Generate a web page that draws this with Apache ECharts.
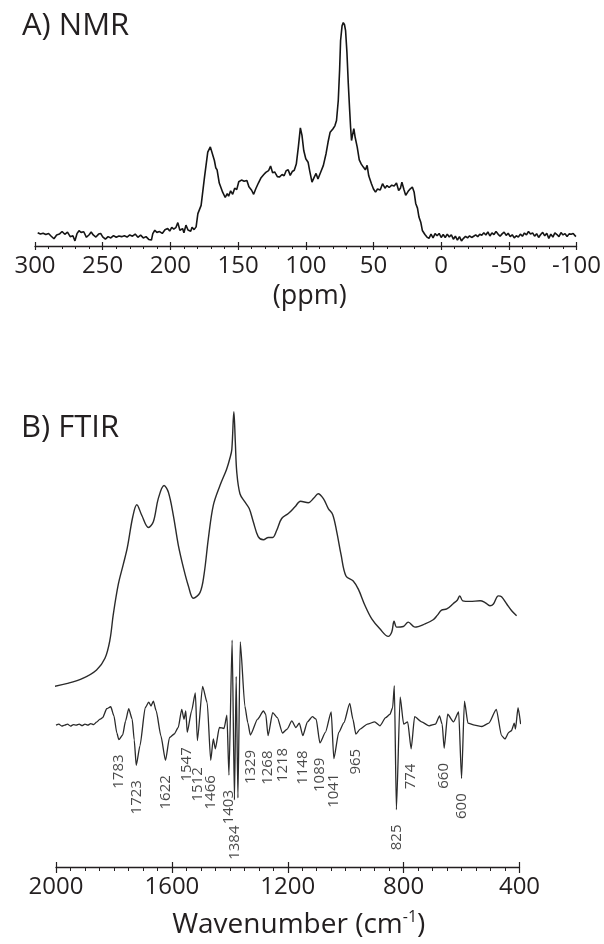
<!DOCTYPE html>
<html>
<head>
<meta charset="utf-8">
<script src="https://cdn.jsdelivr.net/npm/echarts@6/dist/echarts.min.js"></script>
<style>
  html, body { margin: 0; padding: 0; background: #fff; }
  #chart { width: 604px; height: 944px; }
</style>
</head>
<body>
<div id="chart"></div>
<script>
// 13C solid-state NMR spectrum: [chemical shift (ppm), relative intensity]
const nmrSpectrum = [
  [298, 1.2], [296, 0.6], [294, 1.0], [292, 0.4], [290, 0.9], [288, -0.4], [286, -1.6], [284, 0.2],
  [282, 0.6], [280, 1.8], [278, 0.5], [276, 1.5], [274, -0.6], [272, -0.2], [270.5, -2.6], [269, 0.8],
  [267.5, 2.2], [266, 1.4], [264, 1.7], [262, -0.9], [260, 0.3], [258.5, 1.6], [257, 0.2], [255, -0.8],
  [253, 0.6], [251.5, 0.9], [250, -0.7], [248, -1.8], [246, -0.6], [244, -1.2], [242, -0.1], [240, -0.9],
  [238, -0.3], [236, -0.6], [234, -0.2], [232, -0.8], [230, 0.2], [228, -0.4], [226, 0.6], [224, -0.9],
  [222, 0.1], [220, -1.2], [218, -0.6], [216, -1.9], [214, -2.2], [213, 0.8], [211.5, 2.4], [210, 1.4],
  [208, 1.8], [206, 0.9], [204, 2.6], [202, 3.2], [200.5, 2.0], [199, 3.8], [197.5, 2.9], [196, 3.6],
  [194.5, 6.0], [193, 2.4], [191, 3.2], [190, 1.2], [188.5, 4.8], [187, 2.5], [185, 1.9], [184, 3.8],
  [182.5, 2.7], [181, 4.0], [179.7, 10.2], [177.3, 14.1], [174.8, 27.4], [172.4, 39.1], [170.5, 41.6],
  [169.2, 41.2], [167.5, 35.2], [166.5, 31.8], [165.5, 30.8], [163.9, 24.6], [161.4, 20.3], [159.5, 17.8],
  [158, 19.6], [157, 18.4], [155.5, 20.9], [154, 19.3], [152.5, 22.2], [151, 21.5], [149.5, 25.2],
  [147.5, 26.0], [145.5, 25.4], [143.5, 25.8], [142, 22.8], [140, 21.2], [138.5, 19.3], [137, 21.8],
  [135, 24.6], [133, 27.1], [131, 28.6], [129.5, 29.6], [127.5, 30.4], [126, 32.6], [124.5, 29.4],
  [123, 29.8], [121, 27.6], [119.5, 27.4], [117.5, 28.6], [116, 28.0], [114.5, 30.4], [113, 30.8],
  [111.5, 28.2], [110, 30.0], [108.5, 30.6], [107, 33.5], [105.5, 41.5], [104, 50.5], [102.8, 47.0],
  [101.5, 39.9], [100, 36.0], [98.3, 34.4], [97, 30.0], [95.4, 25.0], [94, 27.0], [92.4, 29.1],
  [91, 26.5], [90, 27.2], [88.5, 30.5], [87, 32.9], [85, 38.5], [83.5, 44.0], [82, 48.5], [80, 50.0],
  [78.5, 51.5], [77.3, 54.0], [76, 63.4], [75, 78.0], [74.3, 91.5], [73.2, 98.5], [72.3, 100],
  [71.4, 99.0], [70.6, 96.2], [69.6, 86.0], [68.6, 71.4], [67.6, 59.0], [66.9, 50.8], [66.2, 44.6],
  [65.5, 47.0], [64.5, 50.2], [63.5, 46.0], [62, 41.5], [60.5, 35.5], [59, 33.5], [57.5, 32.1],
  [56, 30.8], [54.7, 32.9], [53.5, 28.0], [51.5, 24.3], [50, 21.8], [48.5, 20.3], [47, 21.8],
  [45, 21.3], [43.3, 24.3], [41.5, 22.2], [40, 23.4], [38.4, 22.5], [36.5, 23.6], [34.7, 23.2],
  [33, 24.6], [31.4, 21.1], [30, 22.3], [29, 25.0], [27.5, 21.6], [26.2, 18.8], [24.5, 20.6],
  [22.8, 21.9], [21.3, 22.7], [20, 20.4], [18.8, 15.0], [17.5, 12.8], [16.4, 8.6], [15, 6.0],
  [13.9, 2.3], [12, 0.4], [10.5, -0.8], [9, -1.4], [7.5, 0.6], [6, -1.2], [4.5, 0.8], [3, -0.2],
  [1.5, 0.9], [0, -1.0], [-1.5, 0.4], [-3, -1.0], [-4.5, 0.6], [-6, -0.8], [-7.5, 0.3], [-9, -1.8],
  [-10.5, -0.4], [-12, -2.2], [-13.5, -0.6], [-15, -2.6], [-16.5, -1.4], [-18, -0.5], [-19.5, -1.2],
  [-21, -0.2], [-22.5, -1.0], [-24, -0.4], [-25.5, 0.2], [-27, -0.6], [-28.5, 0.5], [-30, 0.1],
  [-31.5, 1.2], [-33, 0.2], [-34.5, 1.6], [-36, -0.3], [-37.5, 1.2], [-39, 0.4], [-40.5, 1.8],
  [-42, 0.6], [-43.5, -0.4], [-45, 0.7], [-46.5, 1.5], [-48, 0.0], [-49.5, 1.0], [-51, -0.6],
  [-52.5, 0.3], [-54, -1.2], [-55.5, -0.2], [-57, -0.8], [-58.5, 0.6], [-60, -0.4], [-61.5, 1.1],
  [-63, 0.2], [-64.5, 1.8], [-66, 0.6], [-67.5, 1.2], [-69, -0.4], [-70.5, 0.8], [-72, -1.0],
  [-73.5, 0.4], [-75, 1.4], [-76.5, -0.2], [-78, 1.0], [-79.5, -1.4], [-81, 0.6], [-82.5, -0.8],
  [-84, 1.2], [-85.5, 0.4], [-87, -0.6], [-88.5, 1.3], [-90, 0.2], [-91.5, 0.8], [-93, -0.5],
  [-94.5, 0.7], [-96, 0.5], [-97.5, 0.9], [-99.5, -0.6]
];

// FTIR absorbance: [wavenumber (cm-1), normalised absorbance]
const ftirAbsorbance = [
  [2015, 0.017], [1960, 0.029], [1906, 0.047], [1860, 0.075], [1831, 0.115], [1814, 0.177],
  [1802, 0.267], [1785, 0.368], [1768, 0.436], [1754, 0.493], [1735, 0.600], [1721, 0.641],
  [1704, 0.605], [1681, 0.563], [1664, 0.583], [1647, 0.662], [1627, 0.707], [1612, 0.684],
  [1595, 0.605], [1578, 0.504], [1560, 0.425], [1543, 0.363], [1526, 0.321], [1503, 0.340],
  [1489, 0.402], [1474, 0.526], [1457, 0.639], [1434, 0.707], [1411, 0.763], [1399, 0.803],
  [1393, 0.831], [1386, 0.960], [1381, 0.856], [1376, 0.753], [1365, 0.679], [1348, 0.651],
  [1333, 0.628], [1319, 0.583], [1302, 0.532], [1284, 0.521], [1267, 0.529], [1252, 0.529],
  [1238, 0.554], [1221, 0.594], [1198, 0.611], [1175, 0.634], [1156, 0.653], [1129, 0.648],
  [1110, 0.664], [1095, 0.679], [1077, 0.662], [1060, 0.628], [1045, 0.608], [1031, 0.549],
  [1016, 0.470], [999, 0.397], [974, 0.380], [956, 0.351], [933, 0.295], [910, 0.250],
  [882, 0.216], [853, 0.190], [841, 0.205], [833, 0.242], [824, 0.222], [801, 0.224],
  [784, 0.239], [761, 0.222], [726, 0.233], [698, 0.247], [684, 0.262], [669, 0.280],
  [651, 0.284], [628, 0.303], [615, 0.314], [606, 0.329], [596, 0.312], [571, 0.310],
  [536, 0.312], [519, 0.306], [502, 0.295], [490, 0.301], [473, 0.329], [462, 0.326],
  [444, 0.301], [427, 0.278], [410, 0.261]
];

// Second derivative of the FTIR spectrum: [wavenumber (cm-1), value]
const ftirSecondDerivative = [
  [2000, 0.00], [1990, 0.01], [1980, -0.01], [1970, 0.00], [1960, 0.01], [1950, -0.01], [1940, 0.005],
  [1930, 0.00], [1920, 0.01], [1910, -0.005], [1900, 0.01], [1890, 0.00], [1880, 0.015], [1870, 0.005],
  [1860, 0.03], [1848, 0.06], [1839, 0.076], [1825, 0.166], [1811, 0.186], [1800, 0.093], [1790, -0.08],
  [1783, -0.147], [1770, -0.10], [1760, 0.04], [1749, 0.166], [1737, 0.06], [1730, -0.15], [1723, -0.407],
  [1710, -0.207], [1692, 0.176], [1680, 0.233], [1672, 0.193], [1664, 0.243], [1654, 0.143], [1638, -0.107],
  [1622, -0.357], [1608, -0.124], [1592, -0.09], [1578, -0.024], [1566, 0.16], [1558, 0.06], [1552, 0.143],
  [1547, -0.074], [1532, 0.143], [1519, 0.326], [1512, -0.157], [1494, 0.393], [1478, 0.226], [1466, -0.357],
  [1457, -0.14], [1450, -0.24], [1436, -0.024], [1420, -0.034], [1410, 0.10], [1403, -0.507], [1392, 0.86],
  [1384, -0.757], [1378, 0.493], [1372, -0.737], [1364, 0.843], [1348, 0.193], [1338, 0.026], [1329, -0.10],
  [1304, 0.06], [1284, 0.143], [1276, 0.11], [1268, -0.107], [1252, 0.126], [1236, 0.076], [1218, -0.08],
  [1202, -0.04], [1186, 0.043], [1172, -0.024], [1160, 0.02], [1148, -0.107], [1132, 0.033], [1115, 0.086],
  [1102, 0.06], [1089, -0.18], [1070, -0.074], [1050, 0.133], [1041, -0.34], [1024, -0.074], [1006, 0.026],
  [986, 0.22], [975, 0.06], [965, -0.09], [950, -0.04], [925, 0.01], [900, 0.033], [882, -0.007],
  [862, 0.076], [847, 0.11], [838, 0.176], [832, 0.40], [825, -0.857], [812, 0.286], [800, 0.01],
  [786, 0.033], [774, -0.24], [762, 0.086], [738, 0.033], [712, -0.007], [690, 0.01], [676, 0.093],
  [667, 0.01], [660, -0.234], [648, 0.11], [628, 0.033], [610, 0.133], [600, -0.54], [590, 0.243],
  [578, 0.02], [555, 0.0], [530, -0.014], [506, 0.02], [480, 0.16], [462, -0.107], [450, -0.14],
  [437, -0.074], [428, -0.057], [418, 0.02], [414, -0.04], [405, 0.176], [396, 0.01]
];

// Labelled second-derivative bands (cm-1)
const ftirBands = [1783, 1723, 1622, 1547, 1512, 1466, 1403, 1384, 1329, 1268, 1218, 1148, 1089, 1041, 965, 825, 774, 660, 600];

// Axis ranges and tick spacing
const nmrShiftRange = [-100, 300];
const nmrShiftStep = 50;
const ftirRange = [400, 2000];
const ftirStep = 400;

const FONT = '"Open Sans", "Noto Sans", sans-serif';
const INK = '#231f20';

// Band labels hang just below the minimum of each band
const labelGap = 0.15;
const labelExtraDrop = { 1512: 0.12, 1384: 0.11 };
function bandMinimum(wn) {
  let m = Infinity;
  for (const [x, y] of ftirSecondDerivative) {
    if (Math.abs(x - wn) <= 6) m = Math.min(m, y);
  }
  return m;
}
const bandLabelPoints = ftirBands.map(wn => [wn, bandMinimum(wn) - labelGap - (labelExtraDrop[wn] || 0)]);

function mainAxis(gridIndex, range, step, minorSplit, tickLen, minorLen, name, nameGap, nameStyle) {
  return {
    type: 'value', gridIndex, min: range[0], max: range[1], interval: step, inverse: true,
    position: 'bottom',
    axisLine: { show: true, onZero: false, lineStyle: { color: INK, width: 1.3 } },
    axisTick: { show: true, length: tickLen, lineStyle: { color: INK, width: 1.2 } },
    minorTick: { show: true, splitNumber: minorSplit, length: minorLen, lineStyle: { color: INK, width: 1 } },
    axisLabel: { fontSize: 24, margin: 8, color: INK, fontFamily: FONT, formatter: v => String(v) },
    splitLine: { show: false }, minorSplitLine: { show: false },
    name, nameLocation: 'middle', nameGap, nameTextStyle: nameStyle
  };
}
function innerTickAxis(gridIndex, range, step, tickLen) {
  return {
    type: 'value', gridIndex, min: range[0], max: range[1], interval: step, inverse: true,
    position: 'bottom',
    axisLine: { show: false, onZero: false },
    axisTick: { show: true, inside: true, length: tickLen, lineStyle: { color: INK, width: 1.2 } },
    axisLabel: { show: false }, splitLine: { show: false }
  };
}

const option = {
  animation: false,
  backgroundColor: '#fff',
  title: [
    { text: 'A) NMR', left: 22, top: 11, padding: 0,
      textStyle: { fontSize: 31, fontWeight: 'normal', color: INK, fontFamily: FONT } },
    { text: 'B) FTIR', left: 21, top: 413, padding: 0,
      textStyle: { fontSize: 31, fontWeight: 'normal', color: INK, fontFamily: FONT } }
  ],
  grid: [
    { left: 35, right: 26, top: 12, bottom: 698 },
    { left: 56, right: 84.5, top: 400, bottom: 71 }
  ],
  xAxis: [
    mainAxis(0, nmrShiftRange, nmrShiftStep, 5, 4, 3, '(ppm)', 37,
      { fontSize: 27, color: INK, fontFamily: FONT, padding: [0, 0, 0, 8] }),
    innerTickAxis(0, nmrShiftRange, nmrShiftStep, 4),
    mainAxis(1, ftirRange, ftirStep, 8, 6, 4, '{t|Wavenumber (cm}{s|-1}{t|)}', 42,
      { color: INK, fontFamily: FONT, padding: [0, 0, 0, 22],
        rich: {
          t: { fontSize: 28, lineHeight: 32, color: INK, fontFamily: FONT },
          s: { fontSize: 16, lineHeight: 24, verticalAlign: 'top', color: INK, fontFamily: FONT }
        } }),
    innerTickAxis(1, ftirRange, ftirStep, 5)
  ],
  yAxis: [
    { type: 'value', gridIndex: 0, min: -5, max: 105, show: false },
    { type: 'value', gridIndex: 1, min: -0.6, max: 1.0, show: false },
    { type: 'value', gridIndex: 1, min: -1.437, max: 3.293, show: false }
  ],
  series: [
    {
      name: 'NMR', type: 'line', xAxisIndex: 0, yAxisIndex: 0, data: nmrSpectrum,
      showSymbol: false, lineStyle: { color: '#151515', width: 1.6 }
    },
    {
      name: 'FTIR', type: 'line', xAxisIndex: 2, yAxisIndex: 1, data: ftirAbsorbance,
      showSymbol: false, smooth: 0.35, clip: false, lineStyle: { color: '#2a2a2a', width: 1.4 }
    },
    {
      name: 'Second derivative', type: 'line', xAxisIndex: 2, yAxisIndex: 2, data: ftirSecondDerivative,
      showSymbol: false, clip: false, smooth: 0.2, smoothMonotone: 'x',
      lineStyle: { color: '#2a2a2a', width: 1.3 }
    },
    {
      name: 'Bands', type: 'scatter', xAxisIndex: 2, yAxisIndex: 2, data: bandLabelPoints,
      symbolSize: 1, itemStyle: { color: 'rgba(0,0,0,0)' }, silent: true,
      label: {
        show: true, position: 'inside', rotate: 90, align: 'right', verticalAlign: 'middle',
        fontSize: 15, color: '#1a1a1a', fontFamily: FONT,
        formatter: p => String(p.value[0])
      }
    }
  ]
};

echarts.init(document.getElementById('chart'), null, { renderer: 'canvas' }).setOption(option);
</script>
</body>
</html>
